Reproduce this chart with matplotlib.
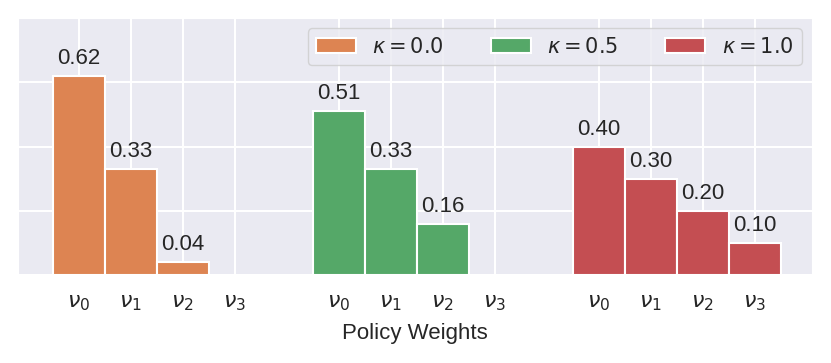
import matplotlib
matplotlib.use("Agg")
import matplotlib.pyplot as plt
import seaborn as sns
import numpy as np

sns.set_style("darkgrid")
plt.rcParams['font.family'] = ['Liberation Sans', 'DejaVu Sans']

series_labels = [r"$\kappa=0.0$", r"$\kappa=0.5$", r"$\kappa=1.0$"]
series_colors = ["#DD8452", "#55A868", "#C44E52"]
weight_labels = [r"$\nu_0$", r"$\nu_1$", r"$\nu_2$", r"$\nu_3$"]
weights_k00 = [0.62, 0.33, 0.04, 0.00]
weights_k05 = [0.51, 0.33, 0.16, 0.00]
weights_k10 = [0.40, 0.30, 0.20, 0.10]
all_weights = [weights_k00, weights_k05, weights_k10]

fig = plt.figure(figsize=(8.31, 3.63), dpi=100)
ax = fig.add_axes([18/831, (363-275)/363, (812-18)/831, (275-18)/363])

ticks = []
ticklabels = []
for g, (vals, lab, col) in enumerate(zip(all_weights, series_labels, series_colors)):
    x = np.arange(len(vals)) + 5 * g
    ticks.extend(x)
    ticklabels.extend(weight_labels)
    nz = [i for i, v in enumerate(vals) if v > 0]
    bars = ax.bar(x[nz], [vals[i] for i in nz], width=1.0, color=col,
                  edgecolor="white", linewidth=1.5, label=lab)
    for b, v in zip(bars, [vals[i] for i in nz]):
        ax.annotate(f"{v:.2f}", (b.get_x() + b.get_width()/2, b.get_height()),
                    xytext=(0, 5), textcoords="offset points",
                    ha="center", va="bottom", fontsize=16, color="#262626")

ax.set_xticks(ticks)
ax.set_xticklabels(ticklabels, fontsize=16)
ax.tick_params(axis="x", pad=9)
ax.set_yticks([0, 0.2, 0.4, 0.6, 0.8])
ax.set_yticklabels([])
ax.tick_params(axis="y", length=0)
ax.set_xlim(-1.17, 14.1)
ax.set_ylim(0, 0.8)
ax.grid(True, color="white", linewidth=1.5)
ax.set_xlabel("Policy Weights", fontsize=16, color="#262626", labelpad=7)
ax.legend(loc="upper right", ncol=3, fontsize=15, handlelength=1.9,
          columnspacing=2.25, frameon=True, facecolor="#EAEAF2",
          edgecolor="#CCCCCC", borderaxespad=0.5)

fig.savefig("out.png", dpi=100)
